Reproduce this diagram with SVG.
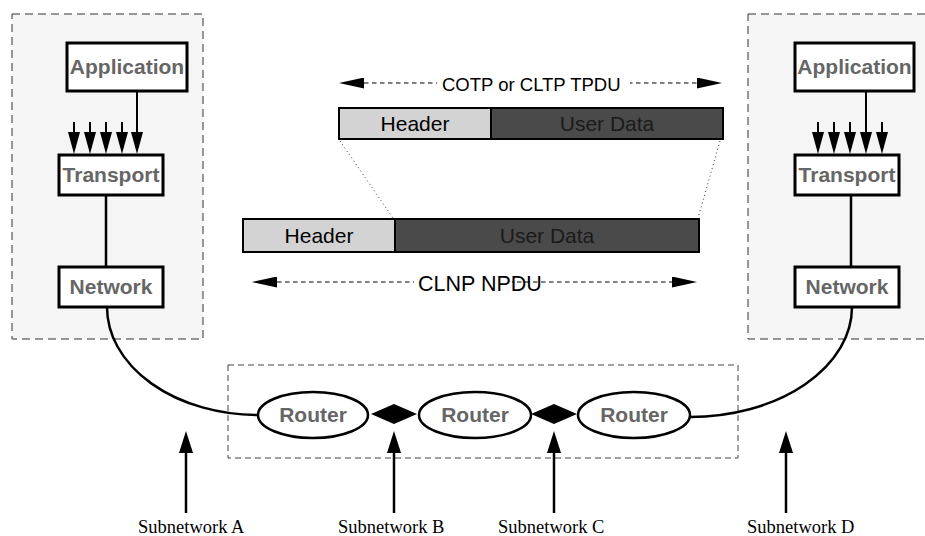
<svg xmlns="http://www.w3.org/2000/svg" width="925" height="536" viewBox="0 0 925 536">
  <defs>
    <style>
      .panel{fill:#f5f5f5;stroke:#333;stroke-width:1;stroke-dasharray:8 5}
      .subnet{fill:none;stroke:#444;stroke-width:1;stroke-dasharray:6 4}
      .box{fill:#fff;stroke:#000;stroke-width:3}
      .lbl{font-family:"Liberation Sans",Arial,sans-serif;font-weight:bold;font-size:21px;fill:#666;text-anchor:middle}
      .router{fill:#fff;stroke:#000;stroke-width:2.5}
      .hdr{fill:#d3d3d3;stroke:#000;stroke-width:2}
      .dat{fill:#4a4a4a;stroke:#000;stroke-width:2}
      .ptxt{font-family:"Liberation Sans",Arial,sans-serif;font-size:21px;text-anchor:middle;fill:#000}
      .dtxt{fill:#1a1a1a}
      .wire{fill:none;stroke:#000;stroke-width:2.5}
      .down{stroke:#000;stroke-width:2;marker-end:url(#hd)}
      .up{stroke:#000;stroke-width:2.5;marker-end:url(#hu)}
      .span{stroke:#000;stroke-width:1.2;stroke-dasharray:4.5 3.5;marker-start:url(#hs);marker-end:url(#hs)}
      .dot{stroke:#333;stroke-width:1;stroke-dasharray:1 3}
      .spantxt{font-family:"Liberation Sans",Arial,sans-serif;fill:#000}
      .sub{font-family:"Liberation Serif","Times New Roman",serif;font-size:18.5px;fill:#000}
    </style>
    <!-- arrowheads: base sits on the line end, tip points forward -->
    <marker id="hd" markerUnits="userSpaceOnUse" viewBox="0 0 22 12" markerWidth="22" markerHeight="12" refX="0" refY="6" orient="auto">
      <path d="M0,0 L22,6 L0,12 Z" fill="#000" stroke="none"/>
    </marker>
    <marker id="hu" markerUnits="userSpaceOnUse" viewBox="0 0 22 14" markerWidth="22" markerHeight="14" refX="0" refY="7" orient="auto">
      <path d="M0,0 L22,7 L0,14 Z" fill="#000" stroke="none"/>
    </marker>
    <marker id="hs" markerUnits="userSpaceOnUse" viewBox="0 0 25 11" markerWidth="25" markerHeight="11" refX="0" refY="5.5" orient="auto-start-reverse">
      <path d="M0,0 L25,5.5 L0,11 Z" fill="#000" stroke="none"/>
    </marker>
  </defs>

  <!-- end-system and subnetwork enclosures -->
  <g id="host-left">
    <rect class="panel" x="12" y="14" width="191" height="325"/>
  </g>
  <g id="host-right">
    <rect class="panel" x="748" y="14" width="192" height="325"/>
  </g>
  <g id="router-domain">
    <rect class="subnet" x="228" y="365" width="510" height="93"/>
  </g>

  <g id="connectors">
    <!-- left stack -->
    <line class="down" x1="74" y1="122" x2="74" y2="132"/>
    <line class="down" x1="90" y1="122" x2="90" y2="132"/>
    <line class="down" x1="106" y1="122" x2="106" y2="132"/>
    <line class="down" x1="122" y1="122" x2="122" y2="132"/>
    <line class="down" x1="137" y1="91" x2="137" y2="132"/>
    <line class="wire" x1="106" y1="195" x2="106" y2="267" stroke-width="2"/>
    <!-- right stack -->
    <line class="down" x1="818" y1="122" x2="818" y2="132"/>
    <line class="down" x1="834" y1="122" x2="834" y2="132"/>
    <line class="down" x1="850" y1="122" x2="850" y2="132"/>
    <line class="down" x1="866" y1="91" x2="866" y2="132"/>
    <line class="down" x1="882" y1="122" x2="882" y2="132"/>
    <line class="wire" x1="851" y1="195" x2="851" y2="267" stroke-width="2"/>
    <!-- host to router links -->
    <path class="wire" d="M107,307 A151,108 0 0 0 258,415"/>
    <path class="wire" d="M690,417 A162,110 0 0 0 852,307"/>
    <!-- router to router links -->
    <polygon points="371,414 394,404 417,414 394,424" fill="#000"/>
    <polygon points="531,414 554,404 577,414 554,424" fill="#000"/>
    <!-- subnetwork pointers -->
    <line class="up" x1="186" y1="513" x2="186" y2="453"/>
    <line class="up" x1="394" y1="513" x2="394" y2="453"/>
    <line class="up" x1="554" y1="513" x2="554" y2="453"/>
    <line class="up" x1="786" y1="513" x2="786" y2="453"/>
    <!-- encapsulation guides -->
    <line class="dot" x1="340" y1="141" x2="393" y2="218"/>
    <line class="dot" x1="720" y1="141" x2="698" y2="218"/>
    <!-- PDU extents -->
    <line class="span" x1="364" y1="83" x2="697" y2="83"/>
    <line class="span" x1="277" y1="282" x2="672" y2="282"/>
  </g>

  <g id="tpdu-label">
    <rect x="437" y="72" width="193" height="22" fill="#fff"/>
    <text class="spantxt" x="442" y="91" font-size="18.5">COTP or CLTP TPDU</text>
  </g>
  <g id="npdu-label">
    <rect x="414" y="270" width="98" height="24" fill="#fff"/>
    <text class="spantxt" x="418" y="291" font-size="21.5">CLNP NPDU</text>
  </g>

  <!-- left end system -->
  <g id="app-left">
    <rect class="box" x="67" y="43" width="120" height="48"/>
    <text class="lbl" x="127" y="74">Application</text>
  </g>
  <g id="transport-left">
    <rect class="box" x="59" y="155" width="104" height="40"/>
    <text class="lbl" x="111" y="182">Transport</text>
  </g>
  <g id="network-left">
    <rect class="box" x="59" y="267" width="104" height="40"/>
    <text class="lbl" x="111" y="294">Network</text>
  </g>

  <!-- right end system -->
  <g id="app-right">
    <rect class="box" x="795" y="43" width="119" height="48"/>
    <text class="lbl" x="854.5" y="74">Application</text>
  </g>
  <g id="transport-right">
    <rect class="box" x="795" y="155" width="104" height="40"/>
    <text class="lbl" x="847" y="182">Transport</text>
  </g>
  <g id="network-right">
    <rect class="box" x="795" y="267" width="104" height="40"/>
    <text class="lbl" x="847" y="294">Network</text>
  </g>

  <!-- transport PDU -->
  <g id="tpdu">
    <rect class="hdr" x="339" y="108" width="152" height="31"/>
    <rect class="dat" x="491" y="108" width="232" height="31"/>
    <text class="ptxt" x="415" y="131">Header</text>
    <text class="ptxt dtxt" x="607" y="131">User Data</text>
  </g>

  <!-- network PDU -->
  <g id="npdu">
    <rect class="hdr" x="243" y="219" width="152" height="33"/>
    <rect class="dat" x="395" y="219" width="304" height="33"/>
    <text class="ptxt" x="319" y="243">Header</text>
    <text class="ptxt dtxt" x="547" y="243">User Data</text>
  </g>

  <!-- routers -->
  <g id="router-1">
    <ellipse class="router" cx="313" cy="415" rx="55" ry="23"/>
    <text class="lbl" x="313" y="422">Router</text>
  </g>
  <g id="router-2">
    <ellipse class="router" cx="475" cy="415" rx="56" ry="23"/>
    <text class="lbl" x="475" y="422">Router</text>
  </g>
  <g id="router-3">
    <ellipse class="router" cx="634" cy="415" rx="56" ry="23"/>
    <text class="lbl" x="634" y="422">Router</text>
  </g>

  <!-- subnetwork names -->
  <g id="subnet-labels">
    <text class="sub" x="138" y="533">Subnetwork A</text>
    <text class="sub" x="338" y="533">Subnetwork B</text>
    <text class="sub" x="498" y="533">Subnetwork C</text>
    <text class="sub" x="747" y="533">Subnetwork D</text>
  </g>
</svg>
